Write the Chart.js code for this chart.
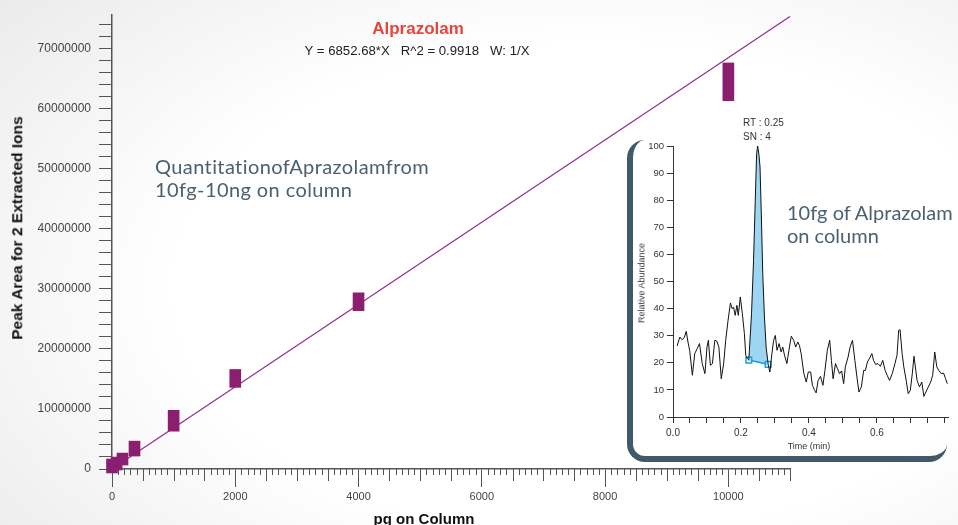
<!DOCTYPE html>
<html>
<head>
<meta charset="utf-8">
<script src="https://cdn.jsdelivr.net/npm/chart.js@4.4.1/dist/chart.umd.min.js"></script>
<style>
  html, body { margin: 0; padding: 0; }
  body {
    width: 958px; height: 525px; overflow: hidden; position: relative;
    background: radial-gradient(ellipse 80% 85% at 62% 55%, #ffffff 55%, #ebebeb 100%);
    font-family: 'Liberation Sans', Arial, sans-serif;
  }
  .t { position: absolute; white-space: pre; line-height: 1; }
  .note { position: absolute; white-space: pre; font-family: Lato, 'Open Sans', sans-serif;
          font-size: 20px; line-height: 23px; color: #4b6070; }
  #main { position: absolute; left: 0; top: 0; }
  #insetBox {
    position: absolute; left: 627px; top: 140px; width: 320px; height: 322px;
    box-sizing: border-box; border-left: 6px solid #42596a; border-bottom: 6px solid #42596a;
    border-radius: 18px;
  }
  #insetWrap { position: absolute; left: 620px; top: 110px; width: 338px; height: 350px; }
</style>
</head>
<body>
<canvas id="main" width="958" height="525"></canvas>

<div class="t" style="left:418px; top:20px; transform:translateX(-50%); font-size:17px; font-weight:bold; color:#e8443a;">Alprazolam</div>
<div class="t" style="left:417px; top:44px; transform:translateX(-50%); font-size:13.2px; color:#222;">Y = 6852.68*X   R^2 = 0.9918   W: 1/X</div>
<div class="t" style="left:17px; top:228px; transform:translate(-50%,-50%) rotate(-90deg); font-size:15.5px; font-weight:bold; color:#111;">Peak Area for 2 Extracted Ions</div>
<div class="t" style="left:424px; top:511px; transform:translateX(-50%); font-size:15px; font-weight:bold; color:#111;">pg on Column</div>
<div class="note" style="left:155px; top:155px; letter-spacing:0.4px;">QuantitationofAprazolamfrom
10fg-10ng on column</div>

<div id="insetBox"></div>
<div id="insetWrap"><canvas id="inset" width="338" height="350"></canvas></div>

<div class="note" style="left:787px; top:201px;">10fg of Alprazolam
on column</div>
<div class="t" style="left:743px; top:118px; font-size:10px; color:#333;">RT : 0.25</div>
<div class="t" style="left:743px; top:132px; font-size:10px; color:#333;">SN : 4</div>
<div class="t" style="left:642px; top:283px; transform:translate(-50%,-50%) rotate(-90deg); font-size:9px; color:#333;">Relative Abundance</div>
<div class="t" style="left:809px; top:442px; transform:translateX(-50%); font-size:9px; color:#333;">Time (min)</div>

<script>
// calibration points (pg on column) and peak area ranges of the replicates
const concPg   = [0, 75, 170, 365, 1000, 2000, 4000, 10000];
const areaLow  = [-660000, -170000, 660000, 2160000, 6300000, 13600000, 26370000, 61350000];
const areaHigh = [1660000, 1990000, 2650000, 4640000, 9780000, 16580000, 29350000, 67650000];

// fitted line end points
const fitX = [0, 11000];
const fitY = [0, 75379480];

const xLabelTicks = [0, 2000, 4000, 6000, 8000, 10000];
const yLabelTicks = [0, 10000000, 20000000, 30000000, 40000000, 50000000, 60000000, 70000000];

// chromatogram of the 10fg injection
const rtTime = [0.012,0.020,0.027,0.033,0.039,0.044,0.049,0.057,0.064,0.071,
  0.078,0.086,0.094,0.100,0.104,0.110,0.116,0.123,0.129,0.135,
  0.142,0.149,0.155,0.162,0.169,0.174,0.178,0.183,0.188,0.192,
  0.198,0.204,0.210,0.214,0.219,0.223,0.231,0.237,0.242,0.246,
  0.249,0.253,0.256,0.260,0.264,0.269,0.274,0.280,0.285,0.291,
  0.296,0.301,0.306,0.312,0.318,0.323,0.328,0.335,0.341,0.348,
  0.355,0.361,0.367,0.372,0.377,0.385,0.392,0.398,0.405,0.410,
  0.417,0.421,0.427,0.434,0.441,0.447,0.454,0.461,0.466,0.471,
  0.478,0.484,0.490,0.496,0.502,0.507,0.515,0.521,0.528,0.535,
  0.541,0.547,0.554,0.561,0.566,0.572,0.580,0.585,0.590,0.596,
  0.603,0.610,0.617,0.624,0.630,0.637,0.645,0.653,0.659,0.664,
  0.668,0.674,0.679,0.686,0.692,0.698,0.704,0.709,0.713,0.718,
  0.725,0.732,0.738,0.744,0.751,0.758,0.764,0.770,0.776,0.782,
  0.789,0.796,0.802,0.807];
const rtAbund = [26.2,29.5,28.5,29.3,31.6,27.7,24.6,15.4,23.4,25.2,
  27.1,19.7,16.0,25.8,28.3,19.1,19.7,28.3,28.0,25.8,
  14.1,19.7,28.3,35.7,42.1,40.0,40.6,37.5,41.2,37.5,
  44.3,38.1,30.8,22.8,21.5,21.0,38.1,57.8,80.0,97.2,
  100,96.6,92.3,73.8,52.9,36.9,25.8,19.4,16.6,23.4,
  28.3,30.1,24.6,27.1,24.0,25.8,22.8,19.7,24.6,29.8,
  28.3,25.8,27.7,26.4,23.4,16.0,12.9,16.6,16.6,11.7,
  9.8,8.9,13.5,15.0,11.7,17.2,24.6,28.3,20.9,14.1,
  19.7,17.8,16.0,17.0,12.3,18.5,22.1,25.8,28.3,20.9,
  14.8,9.2,11.1,17.2,17.2,20.3,22.1,23.4,20.9,19.4,
  19.7,18.7,20.9,17.2,15.4,13.5,16.0,19.7,22.8,32.0,
  32.2,23.4,18.5,13.5,8.6,9.8,16.0,22.4,18.5,13.5,
  11.1,12.9,7.6,9.2,11.1,12.9,15.4,24.0,18.5,17.2,
  16.0,16.2,14.1,12.3];

// integration baseline under the peak
const baseTime = [0.223, 0.280];
const baseAbund = [21.0, 19.4];

const insetXTicks = [0,0.05,0.1,0.15,0.2,0.25,0.3,0.35,0.4,0.45,0.5,0.55,0.6,0.65,0.7,0.75,0.8];
const insetXLabels = [0, 0.2, 0.4, 0.6];

Chart.defaults.font.family = "'Liberation Sans', Arial, sans-serif";
Chart.defaults.animation = false;

// small and medium ticks along the pg axis
const minorTicks = {
  id: 'minorTicks',
  beforeDatasetsDraw(chart) {
    const x = chart.scales.x, ctx = chart.ctx, y0 = chart.chartArea.bottom;
    ctx.save();
    ctx.strokeStyle = '#555';
    ctx.lineWidth = 1;
    for (let v = 100; v <= 11000; v += 100) {
      if (v % 2000 === 0) continue;
      const px = Math.round(x.getPixelForValue(v)) + 0.5;
      const len = v % 500 === 0 ? 12 : 6;
      ctx.beginPath();
      ctx.moveTo(px, y0);
      ctx.lineTo(px, y0 + len);
      ctx.stroke();
    }
    ctx.restore();
  }
};

const yTickValues = [];
for (let v = 0; v <= 74000000; v += 2000000) yTickValues.push(v);

new Chart(document.getElementById('main'), {
  type: 'bar',
  data: {
    datasets: [{
      type: 'bar',
      data: concPg.map((c, i) => ({ x: c, y: [areaLow[i], areaHigh[i]] })),
      backgroundColor: '#8a1f70',
      borderWidth: 0,
      barThickness: 11,
      clip: false
    }, {
      type: 'line',
      data: fitX.map((v, i) => ({ x: v, y: fitY[i] })),
      borderColor: '#98318a',
      borderWidth: 1.3,
      pointRadius: 0,
      clip: false
    }]
  },
  options: {
    responsive: false,
    devicePixelRatio: 1,
    layout: { padding: { top: 13, right: 168, left: 0, bottom: 0 } },
    plugins: { legend: { display: false }, tooltip: { enabled: false } },
    scales: {
      x: {
        type: 'linear', min: 0, max: 11000, offset: false,
        afterBuildTicks: s => { s.ticks = xLabelTicks.map(v => ({ value: v })); },
        afterFit: s => { s.height = 56; },
        grid: { drawOnChartArea: false, tickLength: 18, color: '#555', offset: false },
        border: { color: '#555', width: 1.5 },
        ticks: { color: '#444', font: { size: 11 }, padding: 3, maxRotation: 0, autoSkip: false,
                 callback: v => String(v) }
      },
      y: {
        min: 0, max: 75600000,
        afterBuildTicks: s => { s.ticks = yTickValues.map(v => ({ value: v })); },
        afterFit: s => { s.width = 112; },
        grid: { drawOnChartArea: false, tickLength: 13, color: '#555' },
        border: { color: '#555', width: 1.5 },
        ticks: { color: '#444', font: { size: 12 }, padding: 8, autoSkip: false,
                 callback: v => yLabelTicks.includes(v) ? String(v) : '' }
      }
    }
  },
  plugins: [minorTicks]
});

const peakPts = rtTime.map((t, i) => ({ x: t, y: rtAbund[i] }))
  .filter(p => p.x >= baseTime[0] && p.x <= baseTime[1]);

new Chart(document.getElementById('inset'), {
  type: 'line',
  data: {
    datasets: [{
      data: rtTime.map((t, i) => ({ x: t, y: rtAbund[i] })),
      borderColor: '#111',
      borderWidth: 1,
      pointRadius: 0,
      order: 0
    }, {
      data: peakPts,
      borderWidth: 0,
      borderColor: 'rgba(0,0,0,0)',
      backgroundColor: '#9cd6f3',
      pointRadius: 0,
      fill: '+1',
      order: 2
    }, {
      data: baseTime.map((t, i) => ({ x: t, y: baseAbund[i] })),
      borderColor: '#1a9fdc',
      borderWidth: 1.5,
      pointStyle: 'rect',
      pointRadius: 4,
      pointBorderWidth: 1.5,
      pointBorderColor: '#1a9fdc',
      pointBackgroundColor: 'rgba(255,255,255,0.6)',
      order: 1
    }]
  },
  options: {
    responsive: false,
    devicePixelRatio: 1,
    layout: { padding: { top: 36, right: 10, left: 0, bottom: 0 } },
    plugins: { legend: { display: false }, tooltip: { enabled: false } },
    scales: {
      x: {
        type: 'linear', min: 0, max: 0.809,
        afterBuildTicks: s => { s.ticks = insetXTicks.map(v => ({ value: v })); },
        afterFit: s => { s.height = 43; },
        grid: { drawOnChartArea: false, tickLength: 6, color: '#333' },
        border: { color: '#333', width: 1 },
        ticks: { color: '#333', font: { size: 10 }, padding: 4, maxRotation: 0, autoSkip: false,
                 callback: v => insetXLabels.some(l => Math.abs(l - v) < 1e-6) ? v.toFixed(1) : '' }
      },
      y: {
        min: 0, max: 100,
        afterFit: s => { s.width = 53; },
        grid: { drawOnChartArea: false, tickLength: 6, color: '#333' },
        border: { color: '#333', width: 1 },
        ticks: { stepSize: 10, color: '#333', font: { size: 9.5 }, padding: 3 }
      }
    }
  }
});
</script>
</body>
</html>
